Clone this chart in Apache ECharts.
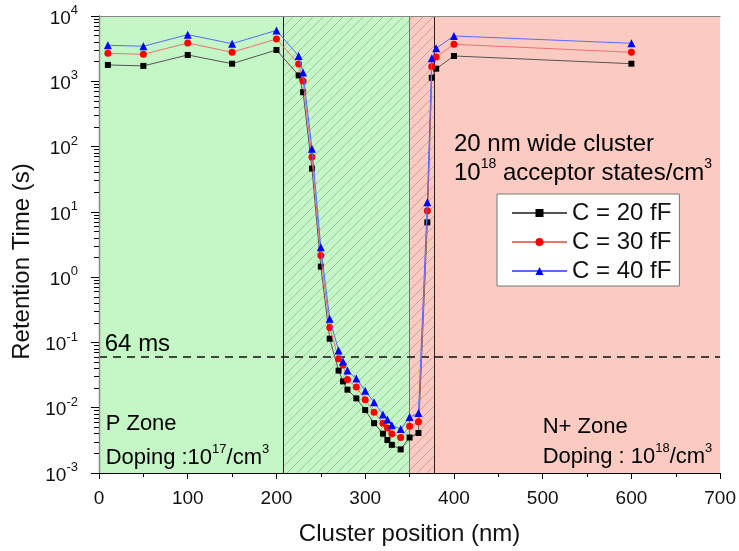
<!DOCTYPE html>
<html><head><meta charset="utf-8">
<script src="https://cdn.jsdelivr.net/npm/echarts@6/dist/echarts.min.js"></script>
<style>html,body{margin:0;padding:0;background:#fff}#c{width:739px;height:551px}</style>
</head><body><div id="c"></div>
<script>
// ---- data ----
const positions = [10,50,100,150,200,225,230,240,250,260,270,275,280,290,300,310,320,325,330,340,350,360,370,375,380,400,600];
const c20 = [1780,1720,2530,1860,3020,1230,680,46,1.45,0.114,0.037,0.0253,0.0189,0.0139,0.0092,0.0058,0.0040,0.0032,0.0027,0.0023,0.0035,0.0041,6.9,1130,1560,2440,1860];
const c30 = [2680,2590,3860,2780,4450,1840,1010,69,2.14,0.170,0.056,0.045,0.027,0.0207,0.0133,0.0085,0.0058,0.0049,0.0040,0.0035,0.0052,0.0061,10.4,1680,2360,3690,2780];
const c40 = [3560,3440,5180,3770,6020,2440,1360,93,2.87,0.231,0.075,0.051,0.037,0.028,0.0182,0.0121,0.0079,0.0066,0.0054,0.0047,0.0072,0.0083,14.0,2250,3200,4940,3820];
const seriesNames = ['C = 20 fF','C = 30 fF','C = 40 fF'];
const zoneBounds = [0,208,350,378,700];   // P zone | hatched P | hatched N+ | N+ zone
const threshold = 0.064;                  // 64 ms
const xMin = 0, xMax = 700, xStep = 100;
const yMin = 0.001, yMax = 10000;

const FONT = '"Liberation Sans", Arial, sans-serif';
const green = '#c5f6c5', pink = '#fbcbc2';

function hatch(bg, line){
  const cv = document.createElement('canvas');
  cv.width = 10; cv.height = 10;
  const g = cv.getContext('2d');
  g.fillStyle = bg; g.fillRect(0,0,10,10);
  g.strokeStyle = line; g.lineWidth = 0.9;
  g.beginPath();
  g.moveTo(0,10); g.lineTo(10,0);
  g.moveTo(-1,1); g.lineTo(1,-1);
  g.moveTo(9,11); g.lineTo(11,9);
  g.stroke();
  return {image: cv, repeat: 'repeat'};
}

const chart = echarts.init(document.getElementById('c'), null, {renderer:'canvas'});

function mk(vals){ return positions.map((p,i)=>[p, vals[i]]); }

const option = {
  animation: false,
  textStyle: {fontFamily: FONT},
  grid: {left: 99, right: 18, top: 16, bottom: 78},
  legend: {
    orient: 'vertical', left: 497, top: 194,
    padding: [7, 8, 3, 14],
    itemWidth: 55, itemHeight: 10, itemGap: 5,
    backgroundColor: '#fff', borderColor: '#777', borderWidth: 1,
    textStyle: {fontSize: 24, color: '#111', fontFamily: FONT},
    data: seriesNames
  },
  xAxis: [{
    type: 'value', min: xMin, max: xMax, interval: xStep,
    name: 'Cluster position (nm)', nameLocation: 'middle', nameGap: 49,
    nameTextStyle: {fontSize: 24, color: '#111', fontFamily: FONT},
    axisLine: {show: true, lineStyle: {color: '#000', width: 1.2}},
    axisTick: {show: true, length: 6, lineStyle: {color: '#000'}},
    minorTick: {show: true, splitNumber: 2, length: 4, lineStyle: {color: '#000'}},
    splitLine: {show: false},
    axisLabel: {fontSize: 19, color: '#111', margin: 16, fontFamily: FONT},
    z: 10
  },{
    type: 'value', min: xMin, max: xMax, position: 'top',
    axisLine: {show: true, lineStyle: {color: '#888'}},
    axisTick: {show: false}, axisLabel: {show: false}, splitLine: {show: false}, z: 10
  }],
  yAxis: [{
    type: 'log', logBase: 10, min: yMin, max: yMax,
    name: 'Retention Time (s)', nameLocation: 'middle', nameGap: 55,
    nameTextStyle: {fontSize: 24, color: '#111', fontFamily: FONT, padding: [0, 34, 0, 0]},
    axisLine: {show: true, lineStyle: {color: '#000', width: 1.2}},
    axisTick: {show: true, length: 8, lineStyle: {color: '#000'}},
    minorTick: {show: true, splitNumber: 9, length: 5, lineStyle: {color: '#000'}},
    splitLine: {show: false},
    axisLabel: {
      margin: 21, color: '#111',
      formatter: v => '{b|10}{s|' + Math.round(Math.log10(v)) + '}',
      rich: {
        b: {fontSize: 19, color: '#111', fontFamily: FONT, verticalAlign: 'bottom', lineHeight: 24},
        s: {fontSize: 13, color: '#111', fontFamily: FONT, verticalAlign: 'top', lineHeight: 11}
      }
    },
    z: 10
  },{
    type: 'log', logBase: 10, min: yMin, max: yMax, position: 'right',
    axisLine: {show: true, lineStyle: {color: '#888'}},
    axisTick: {show: false}, axisLabel: {show: false}, splitLine: {show: false}, z: 10
  }],
  series: [
    {
      name: seriesNames[0], type: 'line', data: mk(c20), z: 5,
      symbol: 'rect', symbolSize: 6,
      itemStyle: {color: '#000'}, lineStyle: {color: '#555', width: 1},
      markArea: {
        silent: true, z: 1,
        data: [
          [{xAxis: zoneBounds[0], itemStyle:{color: green}}, {xAxis: zoneBounds[1]}],
          [{xAxis: zoneBounds[1], itemStyle:{color: hatch(green, 'rgba(90,125,90,0.42)')}}, {xAxis: zoneBounds[2]}],
          [{xAxis: zoneBounds[2], itemStyle:{color: hatch(pink, 'rgba(130,100,95,0.45)')}}, {xAxis: zoneBounds[3]}],
          [{xAxis: zoneBounds[3], itemStyle:{color: pink}}, {xAxis: zoneBounds[4]}]
        ]
      },
      markLine: {
        silent: true, symbol: 'none', label: {show: false}, z: 3,
        data: [
          {xAxis: zoneBounds[1], lineStyle: {color: '#222', width: 1, type: 'solid'}},
          {xAxis: zoneBounds[2], lineStyle: {color: '#6a7a6a', width: 1, type: 'solid'}},
          {xAxis: zoneBounds[3], lineStyle: {color: '#222', width: 1, type: 'solid'}},
          {yAxis: threshold, lineStyle: {color: '#111', width: 1.5, type: [8,6]}}
        ]
      }
    },
    {
      name: seriesNames[1], type: 'line', data: mk(c30), z: 6,
      symbol: 'circle', symbolSize: 7,
      itemStyle: {color: '#ff0000'}, lineStyle: {color: '#f07070', width: 1}
    },
    {
      name: seriesNames[2], type: 'line', data: mk(c40), z: 7,
      symbol: 'triangle', symbolSize: 8,
      itemStyle: {color: '#0000ff'}, lineStyle: {color: '#5a6aff', width: 1}
    }
  ]
};
chart.setOption(option);

// annotations anchored in data coordinates
const notes = [
  {at: [6.5, 0.100], size: 24, text: '{a|64 ms}'},
  {at: [7.5, 0.0060], size: 22, text: '{a|P Zone}'},
  {at: [7.5, 0.00185], size: 22, text: '{a|Doping :10}{s|17}{a|/cm}{s|3}'},
  {at: [500, 0.0055], size: 22, text: '{a|N+ Zone}'},
  {at: [500, 0.00190], size: 22, text: '{a|Doping : 10}{s|18}{a|/cm}{s|3}'},
  {at: [400, 118], size: 24, text: '{a|20 nm wide cluster}'},
  {at: [400, 42], size: 24, text: '{a|10}{s|18}{a| acceptor states/cm}{s|3}'}
];
chart.setOption({
  graphic: notes.map(n => {
    const p = chart.convertToPixel({xAxisIndex: 0, yAxisIndex: 0}, n.at);
    const rich = {
      a: {fontSize: n.size, color: '#111', fontFamily: FONT, verticalAlign: 'bottom', lineHeight: n.size + 4},
      s: {fontSize: Math.round(n.size * 0.6), color: '#111', fontFamily: FONT, verticalAlign: 'top', lineHeight: Math.round(n.size * 0.5)}
    };
    return {type: 'text', x: p[0], y: p[1], z: 20,
      style: {text: n.text, rich: rich, align: 'left', verticalAlign: 'middle'}};
  })
});
</script>
</body></html>
